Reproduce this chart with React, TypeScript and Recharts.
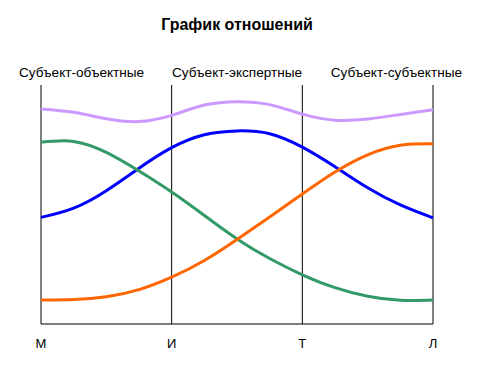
import React from 'react';
import { LineChart, Line, XAxis, YAxis, CartesianGrid } from 'recharts';

const categories = ['М', 'И', 'Т', 'Л'];
const positions = [0, 0.25, 0.5, 0.75, 1, 1.25, 1.5, 1.75, 2, 2.25, 2.5, 2.75, 3];
const purpleValues = [90, 88.6, 85.9, 84.7, 87.3, 91.6, 93, 91.8, 87.8, 85.3, 85.8, 87.7, 89.6];
const blueValues = [44.6, 48.5, 55.8, 65.2, 73.8, 79.2, 80.8, 79.6, 74, 65.8, 57, 49.8, 44.4];
const greenValues = [76, 76.4, 71.8, 64, 55.2, 45.4, 35.6, 27.4, 20.6, 15.2, 11.6, 9.9, 10];
const orangeValues = [10, 10.2, 11.4, 14.4, 19.6, 26.6, 35.4, 44.8, 54.4, 63.6, 70.8, 74.8, 75.4];
const groupLabels = ['Субъект-объектные', 'Субъект-экспертные', 'Субъект-субъектные'];

const data = positions.map((x, i) => ({
  x,
  purple: purpleValues[i],
  blue: blueValues[i],
  green: greenValues[i],
  orange: orangeValues[i],
}));

const font = '"Liberation Sans", Arial, sans-serif';

export default function App() {
  const labelStyle: React.CSSProperties = {
    position: 'absolute',
    top: 57,
    fontSize: 13.6,
    lineHeight: '16px',
    whiteSpace: 'nowrap',
    color: '#000',
  };
  return (
    <div style={{ position: 'relative', width: 466, height: 353, fontFamily: font }}>
      <div style={{ position: 'absolute', top: 8, left: 0, width: 458, textAlign: 'center', fontSize: 16, fontWeight: 'bold', lineHeight: '18px' }}>
        График отношений
      </div>
      <div style={{ ...labelStyle, left: 11 }}>{groupLabels[0]}</div>
      <div style={{ ...labelStyle, left: 164 }}>{groupLabels[1]}</div>
      <div style={{ ...labelStyle, right: 12 }}>{groupLabels[2]}</div>
      <LineChart width={466} height={353} data={data} margin={{ top: 77, right: 41, left: 33, bottom: 7 }}>
        <CartesianGrid horizontal={false} vertical={true} stroke="#000" strokeWidth={1} />
        <XAxis
          dataKey="x"
          type="number"
          domain={[0, 3]}
          ticks={[0, 1, 2, 3]}
          tickFormatter={(v: number) => categories[v]}
          height={30}
          stroke="#000"
          tickLine={false}
          tickSize={0}
          tickMargin={15}
          tick={{ fill: '#000', fontSize: 13, fontFamily: font }}
        />
        <YAxis hide domain={[0, 100]} />
        <Line type="natural" dataKey="purple" stroke="#cc99ff" strokeWidth={3} dot={false} isAnimationActive={false} />
        <Line type="natural" dataKey="blue" stroke="#0000ff" strokeWidth={3} dot={false} isAnimationActive={false} />
        <Line type="natural" dataKey="green" stroke="#339966" strokeWidth={3} dot={false} isAnimationActive={false} />
        <Line type="natural" dataKey="orange" stroke="#ff6600" strokeWidth={3} dot={false} isAnimationActive={false} />
      </LineChart>
    </div>
  );
}
